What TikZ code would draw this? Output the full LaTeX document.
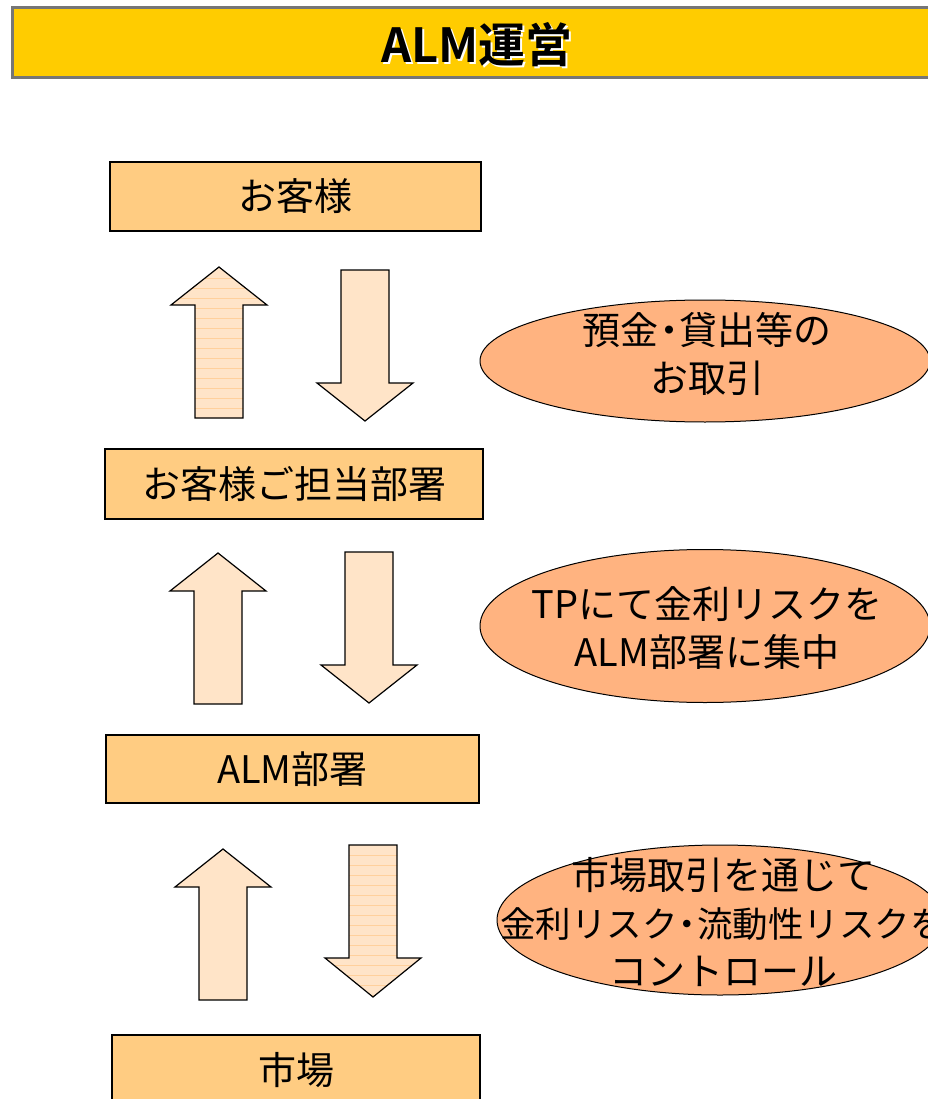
\documentclass[tikz,border=0pt]{standalone}
\usepackage{fontspec}
\setmainfont{Noto Sans CJK JP}[BoldFont={Noto Sans CJK JP Bold}]
\usetikzlibrary{shapes.geometric}
\definecolor{titlefill}{HTML}{FFCC00}
\definecolor{titleline}{HTML}{767676}
\definecolor{boxfill}{HTML}{FFCC82}
\definecolor{ovalfill}{HTML}{FFB380}
\definecolor{arrowfill}{HTML}{FFE4C8}
\definecolor{stripecol}{HTML}{FFD09C}
% block arrow: centre x, tip y, head-base y, tail y
\newcommand\blockarrow[4]{(#1,#2) -- ({#1+48},#3) -- ({#1+24},#3) -- ({#1+24},#4) -- ({#1-24},#4) -- ({#1-24},#3) -- ({#1-48},#3) -- cycle}
\newcommand\nardot{\kern-0.22em・\kern-0.22em}
\tikzset{
  titlebar/.style={draw=titleline, line width=3pt, fill=titlefill, rectangle, inner sep=0pt},
  titletext/.style={font=\fontsize{47}{50}\selectfont\bfseries, inner sep=0pt},
  box/.style={draw=black, line width=1.4pt, fill=boxfill, rectangle, inner sep=0pt, font=\fontsize{38}{44}\selectfont},
  oval/.style={ellipse, draw=black, line width=1pt, fill=ovalfill, inner sep=0pt},
  ovaltext/.style={align=center, inner sep=0pt, font=\fontsize{38}{48}\selectfont},
  arrowbody/.style={fill=arrowfill},
  arrowline/.style={draw=black, line width=1.2pt, line join=miter},
  stripeline/.style={draw=stripecol, line width=0.8pt}
}
\begin{document}
\begin{tikzpicture}[x=1pt, y=-1pt]
\useasboundingbox (0,0) rectangle (927,1099);

% title
\node[titlebar, minimum width=924pt, minimum height=70pt] (title) at (474,43) {};
\node[titletext, text=white, xshift=1.8pt, yshift=-1.8pt] (titleshadow) at (477,45) {ALM運営};
\node[titletext, text=black] (titletxt) at (477,45) {ALM運営};

% boxes
\node[box, minimum width=371pt, minimum height=69pt] (cust) at (295.5,196.5) {お客様};
\node[box, minimum width=378pt, minimum height=70pt] (dept) at (294,484) {お客様ご担当部署};
\node[box, minimum width=373pt, minimum height=68pt] (alm) at (292.5,769) {ALM部署};
\node[box, minimum width=368pt, minimum height=70pt] (mkt) at (296,1070) {市場};

% ellipses
\node[oval, minimum width=450pt, minimum height=122pt] (e1) at (705,361) {};
\node[ovaltext] (t1) at (707,354) {預金\nardot 貸出等の\\お取引};
\node[oval, minimum width=450pt, minimum height=153pt] (e2) at (705,626) {};
\node[ovaltext] (t2) at (707,628) {TPにて金利リスクを\\ALM部署に集中};
\node[oval, minimum width=446pt, minimum height=150pt] (e3) at (720,920) {};
\node[ovaltext] (t3) at (723,922) {市場取引を通じて\\{\fontsize{35.5}{48}\selectfont 金利リスク\nardot 流動性リスクを}\\コントロール};

% arrows pair 1 (up striped)
\begin{scope}
  \clip \blockarrow{219}{267}{305}{418};
  \fill[arrowfill] (160,260) rectangle (280,420);
  \foreach \yy in {278,288,...,418} \draw[stripeline] (160,\yy) -- (280,\yy);
\end{scope}
\draw[arrowline] \blockarrow{219}{267}{305}{418};
\fill[arrowfill] \blockarrow{365}{421}{383}{270};
\draw[arrowline] \blockarrow{365}{421}{383}{270};

% arrows pair 2
\fill[arrowfill] \blockarrow{218}{553}{591}{704};
\draw[arrowline] \blockarrow{218}{553}{591}{704};
\fill[arrowfill] \blockarrow{369}{703}{665}{552};
\draw[arrowline] \blockarrow{369}{703}{665}{552};

% arrows pair 3 (down striped)
\fill[arrowfill] \blockarrow{223}{849}{887}{1000};
\draw[arrowline] \blockarrow{223}{849}{887}{1000};
\begin{scope}
  \clip \blockarrow{373}{997}{958}{845};
  \fill[arrowfill] (320,840) rectangle (430,1000);
  \foreach \yy in {855,865,...,995} \draw[stripeline] (320,\yy) -- (430,\yy);
\end{scope}
\draw[arrowline] \blockarrow{373}{997}{958}{845};
\end{tikzpicture}
\end{document}
